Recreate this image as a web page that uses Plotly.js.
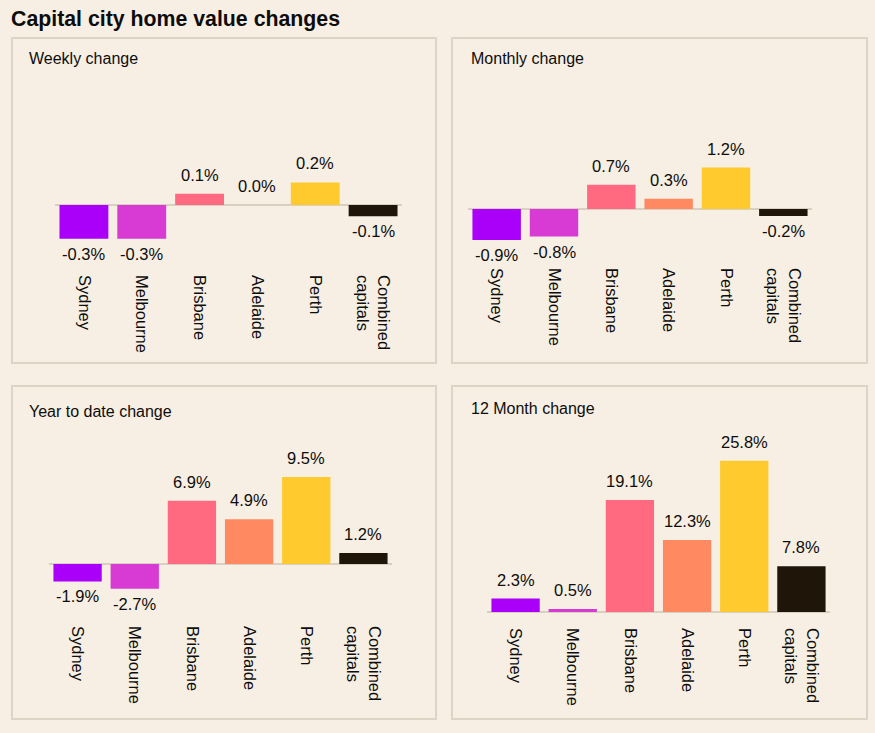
<!DOCTYPE html>
<html>
<head>
<meta charset="utf-8">
<script src="https://cdn.plot.ly/plotly-3.0.1.min.js"></script>
<style>
html,body{margin:0;padding:0;background:#f7efe3;}
#chart{width:875px;height:733px;}
</style>
</head>
<body>
<div id="chart"></div>
<script>
// ---- data ----
const cities = ['Sydney', 'Melbourne', 'Brisbane', 'Adelaide', 'Perth', 'Combined<br>capitals'];
const weekly = [-0.3, -0.3, 0.1, 0.0, 0.2, -0.1];
const monthly = [-0.9, -0.8, 0.7, 0.3, 1.2, -0.2];
const yearToDate = [-1.9, -2.7, 6.9, 4.9, 9.5, 1.2];
const twelveMonth = [2.3, 0.5, 19.1, 12.3, 25.8, 7.8];
const panelTitles = ['Weekly change', 'Monthly change', 'Year to date change', '12 Month change'];
const chartTitle = 'Capital city home value changes';
const barColors = ['#aa00fa', '#d83ad4', '#ff6a80', '#ff8a62', '#ffca2e', '#1f1508'];

// ---- layout helpers ----
const W = 875, H = 733;
const fx = p => p / W;
const fy = p => 1 - p / H;
const FONT = '"Liberation Sans", Arial, sans-serif';
const BG = '#f7efe3';
const BORDER = '#ddd4c6';
const INK = '#0d0d0d';

const series = [weekly, monthly, yearToDate, twelveMonth];
// pixel geometry per panel: box, axis x-span, plot top/bottom, y range
const panels = [
  {box: [12, 38, 436, 363], xs: [55, 402], yt: 90, yb: 274, range: [-0.611, 1.018], title: [27, 58]},
  {box: [452, 38, 867, 363], xs: [468, 812], yt: 90, yb: 267, range: [-1.681, 3.449], title: [469, 58]},
  {box: [12, 386, 436, 719], xs: [49, 392], yt: 440, yb: 625, range: [-6.667, 13.55], title: [27, 411]},
  {box: [452, 386, 867, 719], xs: [487, 830], yt: 440, yb: 627, range: [-2.56, 29.35], title: [469, 408]}
];

const traces = [];
const layout = {
  width: W, height: H,
  margin: {l: 0, r: 0, t: 0, b: 0},
  paper_bgcolor: BG, plot_bgcolor: 'rgba(0,0,0,0)',
  showlegend: false,
  bargap: 0.155,
  font: {family: FONT, size: 16, color: INK},
  shapes: [], annotations: []
};

layout.annotations.push({
  text: '<b>' + chartTitle + '</b>', xref: 'paper', yref: 'paper',
  x: fx(9), y: fy(19), xanchor: 'left', yanchor: 'middle', showarrow: false,
  font: {family: FONT, size: 21.3, color: INK}
});

panels.forEach((p, i) => {
  const n = i === 0 ? '' : String(i + 1);
  const xa = 'x' + n, ya = 'y' + n;
  const vals = series[i];
  traces.push({
    type: 'bar', x: cities, y: vals, xaxis: xa, yaxis: ya,
    marker: {color: barColors, line: {width: 0}},
    hoverinfo: 'skip', cliponaxis: false
  });
  layout['xaxis' + n] = {
    domain: [fx(p.xs[0]), fx(p.xs[1])], anchor: ya,
    tickangle: 90, showgrid: false, showline: false, zeroline: false, ticks: '',
    tickfont: {family: FONT, size: 16.5, color: INK}, fixedrange: true, automargin: false
  };
  layout['yaxis' + n] = {
    domain: [fy(p.yb), fy(p.yt)], anchor: xa, range: p.range,
    showgrid: false, showticklabels: false, ticks: '', showline: false,
    zeroline: true, zerolinecolor: '#d9d0c2', zerolinewidth: 2, fixedrange: true, automargin: false
  };
  layout.shapes.push({
    type: 'rect', xref: 'paper', yref: 'paper',
    x0: fx(p.box[0]), x1: fx(p.box[2]), y0: fy(p.box[3]), y1: fy(p.box[1]),
    line: {color: BORDER, width: 2}, fillcolor: 'rgba(0,0,0,0)', layer: 'below'
  });
  layout.annotations.push({
    text: panelTitles[i], xref: 'paper', yref: 'paper',
    x: fx(p.title[0]), y: fy(p.title[1]), xanchor: 'left', yanchor: 'middle', showarrow: false,
    font: {family: FONT, size: 16, color: INK}
  });
  vals.forEach((v, k) => {
    const neg = v < 0;
    layout.annotations.push({
      text: v.toFixed(1) + '%', xref: xa, yref: ya, x: cities[k], y: v,
      xanchor: 'center', yanchor: neg ? 'top' : 'bottom', yshift: neg ? -4 : 8,
      showarrow: false, font: {family: FONT, size: 16.5, color: INK}
    });
  });
});

Plotly.newPlot('chart', traces, layout, {staticPlot: true, displayModeBar: false});
</script>
</body>
</html>
